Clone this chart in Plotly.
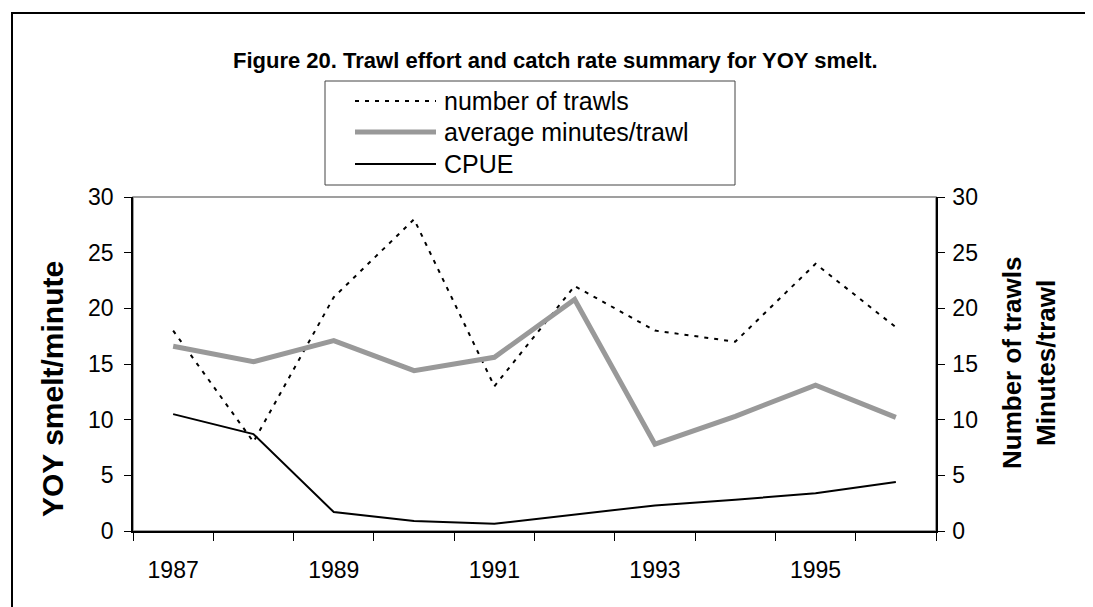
import plotly.graph_objects as go

years = [1987, 1988, 1989, 1990, 1991, 1992, 1993, 1994, 1995, 1996]
num_trawls = [18, 8, 21, 28, 13, 22, 18, 17, 24, 18.3]
avg_minutes = [16.6, 15.2, 17.1, 14.4, 15.6, 20.8, 7.8, 10.3, 13.1, 10.2]
cpue = [10.5, 8.7, 1.7, 0.9, 0.65, 1.5, 2.3, 2.8, 3.4, 4.4]
label_years = [1987, 1989, 1991, 1993, 1995]
boundaries = [y - 0.5 for y in years] + [years[-1] + 0.5]
y_ticks = [0, 5, 10, 15, 20, 25, 30]

W, H = 1093, 607
L, R, T, B = 125, 928, 189, 523


def px(x):
    return (x - L) / (R - L)


def py(y):
    return (B - y) / (B - T)


fig = go.Figure()
fig.add_trace(go.Scatter(x=years, y=num_trawls, mode="lines", name="number of trawls",
                         line=dict(color="black", width=2, dash="4px,6px"), yaxis="y2"))
fig.add_trace(go.Scatter(x=years, y=avg_minutes, mode="lines", name="average minutes/trawl",
                         line=dict(color="#999999", width=5), yaxis="y2"))
fig.add_trace(go.Scatter(x=years, y=cpue, mode="lines", name="CPUE",
                         line=dict(color="black", width=2), yaxis="y"))

font = "Arial, Liberation Sans, sans-serif"
TICK = 23

fig.update_layout(
    width=W, height=H,
    margin=dict(l=L, r=W - R, t=T, b=H - B, pad=0),
    paper_bgcolor="white", plot_bgcolor="white",
    showlegend=False,
    font=dict(family=font, color="black", size=TICK),
    xaxis=dict(range=[boundaries[0], boundaries[-1]], tickvals=label_years,
               ticktext=[str(v) for v in label_years], ticks="",
               showgrid=False, zeroline=False, showline=True, linecolor="black", linewidth=1.5,
               tickfont=dict(size=TICK), ticklabelstandoff=18,
               minor=dict(tickvals=boundaries, ticks="outside", ticklen=8,
                          tickcolor="black", tickwidth=1, showgrid=False)),
    yaxis=dict(range=[0, 30], tickvals=y_ticks, ticks="outside", ticklen=7, tickcolor="black",
               showgrid=False, zeroline=False, showline=True, linecolor="black", linewidth=1.5,
               tickfont=dict(size=TICK), ticklabelstandoff=6),
    yaxis2=dict(range=[0, 30], tickvals=y_ticks, ticks="outside", ticklen=7, tickcolor="black",
                overlaying="y", side="right",
                showgrid=False, zeroline=False, showline=True, linecolor="black", linewidth=1.5,
                tickfont=dict(size=TICK), ticklabelstandoff=3),
)

shapes = [
    # plot area border (gray top)
    dict(type="rect", xref="paper", yref="paper", x0=0, y0=0, x1=1, y1=1,
         line=dict(color="#808080", width=1.5), layer="below"),
    # outer figure frame
    dict(type="rect", xref="paper", yref="paper", x0=px(4), y0=py(640), x1=px(1120), y1=py(5),
         line=dict(color="black", width=2)),
    # legend box
    dict(type="rect", xref="paper", yref="paper", x0=px(317), y0=py(177), x1=px(727), y1=py(73),
         line=dict(color="#444444", width=1), fillcolor="white"),
]
legend_items = [
    ("number of trawls", dict(color="black", width=2, dash="4px,6px"), 93),
    ("average minutes/trawl", dict(color="#999999", width=5), 124),
    ("CPUE", dict(color="black", width=2), 156),
]
annotations = []
for text, ln, yy in legend_items:
    shapes.append(dict(type="line", xref="paper", yref="paper", x0=px(347), x1=px(428),
                       y0=py(yy), y1=py(yy), line=ln))
    annotations.append(dict(text=text, xref="paper", yref="paper", x=px(434), y=py(yy),
                            xanchor="left", yanchor="middle", showarrow=False,
                            font=dict(size=25, family=font)))

annotations += [
    dict(text="<b>Figure 20. Trawl effort and catch rate summary for YOY smelt.</b>",
         xref="paper", yref="paper", x=px(547), y=py(53), xanchor="center", yanchor="middle",
         showarrow=False, font=dict(size=22, family=font)),
    dict(text="<b>YOY smelt/minute</b>", xref="paper", yref="paper", x=px(44), y=py(381),
         xanchor="center", yanchor="middle", textangle=-90, showarrow=False,
         font=dict(size=30, family=font)),
    dict(text="<b>Number of trawls<br>Minutes/trawl</b>", xref="paper", yref="paper",
         x=px(1021), y=py(355), xanchor="center", yanchor="middle", textangle=-90,
         showarrow=False, font=dict(size=26, family=font)),
]

fig.update_layout(shapes=shapes, annotations=annotations)
fig.write_html("out.html")
